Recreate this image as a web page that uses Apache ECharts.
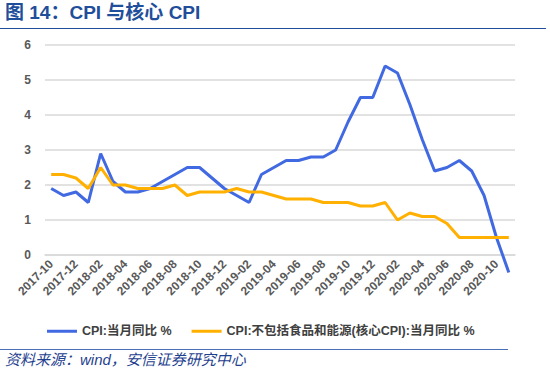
<!DOCTYPE html>
<html><head><meta charset="utf-8">
<script src="https://cdn.jsdelivr.net/npm/echarts@6/dist/echarts.min.js"></script>
<style>html,body{margin:0;padding:0;background:#fff}#c{width:550px;height:374px}</style>
</head><body><div id="c"></div>
<script>
const months = ['2017-10','2017-11','2017-12','2018-01','2018-02','2018-03','2018-04','2018-05','2018-06','2018-07','2018-08','2018-09','2018-10','2018-11','2018-12','2019-01','2019-02','2019-03','2019-04','2019-05','2019-06','2019-07','2019-08','2019-09','2019-10','2019-11','2019-12','2020-01','2020-02','2020-03','2020-04','2020-05','2020-06','2020-07','2020-08','2020-09','2020-10','2020-11'];
const cpi = [1.9,1.7,1.8,1.5,2.9,2.1,1.8,1.8,1.9,2.1,2.3,2.5,2.5,2.2,1.9,1.7,1.5,2.3,2.5,2.7,2.7,2.8,2.8,3.0,3.8,4.5,4.5,5.4,5.2,4.3,3.3,2.4,2.5,2.7,2.4,1.7,0.5,-0.5];
const coreCpi = [2.3,2.3,2.2,1.9,2.5,2.0,2.0,1.9,1.9,1.9,2.0,1.7,1.8,1.8,1.8,1.9,1.8,1.8,1.7,1.6,1.6,1.6,1.5,1.5,1.5,1.4,1.4,1.5,1.0,1.2,1.1,1.1,0.9,0.5,0.5,0.5,0.5,0.5];
const yTicks = [0,1,2,3,4,5,6];
const seriesNames = ['CPI:当月同比 %','CPI:不包括食品和能源(核心CPI):当月同比 %'];
const titleText = '图 14：CPI 与核心 CPI';
const sourceText = '资料来源：wind，安信证券研究中心';

const chart = echarts.init(document.getElementById('c'), null, {renderer:'svg'});
chart.setOption({
  animation:false,
  grid:{left:45,right:35,top:45,bottom:119,containLabel:false},
  legend:{
    top:320, left:42, itemWidth:30, itemHeight:3, itemGap:20,
    icon:'rect',
    textStyle:{fontSize:12.5,fontWeight:'bold',color:'#404040',fontFamily:'Liberation Sans, Noto Sans CJK SC, sans-serif'},
    data:seriesNames
  },
  xAxis:{
    type:'category', data:months, boundaryGap:true,
    axisLine:{lineStyle:{color:'#d9d9d9',width:1.5}},
    axisTick:{interval:1,length:5,lineStyle:{color:'#d9d9d9',width:1.5}},
    axisLabel:{interval:1,rotate:45,fontSize:12,fontWeight:'bold',color:'#595959',margin:7,fontFamily:'Liberation Sans, sans-serif'}
  },
  yAxis:{
    type:'value', min:0, max:6, interval:1,
    axisLine:{show:false}, axisTick:{show:false},
    splitLine:{lineStyle:{color:'#d9d9d9',width:1.5}},
    axisLabel:{fontSize:12,fontWeight:'bold',color:'#595959',margin:14,fontFamily:'Liberation Sans, sans-serif'}
  },
  series:[
    {name:seriesNames[0],type:'line',data:cpi,symbol:'none',clip:false,
     lineStyle:{color:'#4169e1',width:3},itemStyle:{color:'#4169e1'}},
    {name:seriesNames[1],type:'line',data:coreCpi,symbol:'none',clip:false,
     lineStyle:{color:'#ffb000',width:3},itemStyle:{color:'#ffb000'}}
  ],
  graphic:[
    {type:'text',left:5,top:3,style:{text:titleText,fill:'#1f4e9a',font:'bold 19px Liberation Sans, Noto Sans CJK SC, sans-serif'}},
    {type:'line',shape:{x1:0,y1:28.5,x2:546,y2:28.5},style:{stroke:'#1f4e9a',lineWidth:1.2}},
    {type:'line',shape:{x1:0,y1:349.5,x2:508,y2:349.5},style:{stroke:'#4a6fb5',lineWidth:1.2}},
    {type:'text',left:5,top:352,style:{text:sourceText,fill:'#1f3f8f',font:'italic 15px Liberation Sans, Noto Sans CJK SC, sans-serif'}}
  ]
});
</script></body></html>
